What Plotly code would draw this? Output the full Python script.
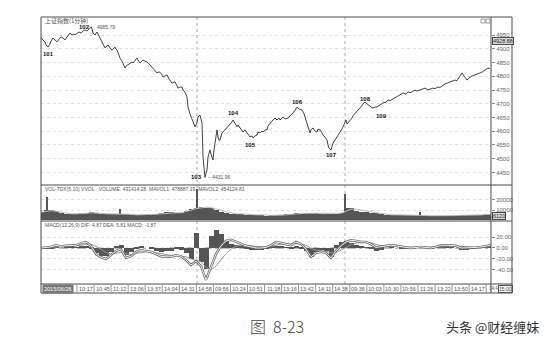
import plotly.graph_objects as go

# ---------------- data ----------------
# 1-minute bar index (0..450) and 上证指数 close
price_bar = [0, 2, 4, 5, 7, 9, 10, 12, 14, 16, 18, 20, 22, 24, 26, 28, 29, 31, 33, 34, 36, 38, 40, 42, 44, 46, 48, 50,
             51, 52, 54, 55, 56, 58, 59, 61, 62, 63, 64, 66, 67, 69, 71, 73, 74, 75, 76, 78, 79, 81, 82, 84, 85, 87,
             89, 91, 92, 94, 96, 97, 99, 101, 102, 104, 106, 108, 109, 111, 112, 114, 116, 117, 119, 121, 122, 124,
             126, 128, 131, 133, 134, 136, 137, 139, 141, 142, 144, 146, 147, 149, 151, 153, 154, 156, 157, 159, 160,
             161, 162, 163, 164, 165, 166, 167, 168, 169, 170, 171, 172, 173, 174, 175, 176, 177, 178, 179, 180, 181,
             183, 184, 186, 187, 189, 191, 192, 194, 196, 197, 199, 201, 202, 204, 206, 208, 209, 211, 212, 214, 216,
             217, 219, 221, 222, 224, 226, 227, 229, 231, 234, 236, 238, 239, 241, 242, 244, 247, 249, 252, 254, 256,
             258, 261, 263, 264, 266, 267, 269, 270, 272, 274, 276, 277, 279, 281, 282, 284, 286, 287, 288, 290, 291,
             292, 294, 296, 297, 299, 301, 302, 304, 305, 306, 307, 309, 311, 312, 314, 316, 317, 319, 321, 323, 324,
             326, 327, 329, 331, 332, 334, 336, 339, 342, 345, 347, 349, 352, 354, 356, 359, 362, 365, 367, 369, 372,
             374, 376, 379, 382, 384, 387, 389, 392, 394, 397, 399, 402, 404, 406, 409, 411, 414, 416, 418, 421, 423,
             426, 428, 429, 431, 434, 437, 439, 441, 444, 447, 449]
price = [4939, 4932, 4925, 4914, 4906, 4917, 4928, 4939, 4932, 4925, 4935, 4943, 4939, 4932, 4943, 4954, 4957, 4950,
         4954, 4950, 4957, 4961, 4957, 4965, 4968, 4965, 4972, 4980,
         4972, 4957, 4950, 4957, 4961, 4946, 4939, 4928, 4921, 4910, 4903, 4910, 4914, 4903, 4895, 4903, 4906, 4899,
         4895, 4877, 4866, 4855, 4848, 4830, 4837, 4841,
         4848, 4852, 4848, 4859, 4866, 4859, 4848, 4855, 4859, 4855, 4852, 4845, 4841, 4834, 4830, 4819, 4812, 4815,
         4815, 4805, 4797, 4801,
         4805, 4790, 4775, 4779, 4779, 4765, 4757, 4761, 4761, 4750, 4743, 4725, 4688, 4663, 4641, 4623, 4616, 4630,
         4652, 4659, 4645,
         4630, 4506, 4459, 4432, 4445, 4459, 4506, 4521, 4532, 4517, 4506, 4496, 4532, 4557, 4583, 4605, 4579, 4568,
         4568, 4583, 4594,
         4601, 4605, 4612, 4616, 4623, 4634, 4641, 4626, 4616, 4623, 4612, 4601, 4597, 4605, 4594, 4586, 4579, 4583,
         4576, 4583, 4586,
         4597, 4594, 4601, 4597, 4605, 4605, 4619, 4630, 4637, 4648, 4641, 4648, 4641, 4648, 4652, 4645, 4648, 4656,
         4666, 4677, 4688,
         4681, 4677, 4663, 4652, 4634, 4616, 4594, 4605, 4612, 4601, 4597, 4608, 4605, 4594, 4586, 4579, 4568, 4550,
         4539, 4532, 4546,
         4557, 4568, 4579, 4586, 4594, 4608, 4616, 4634, 4641, 4626, 4630, 4641, 4648, 4656, 4666, 4674, 4677, 4685,
         4696, 4703, 4706,
         4699, 4696, 4692, 4685, 4685, 4688, 4688, 4696, 4703, 4706, 4714, 4711, 4717, 4721, 4725, 4732, 4739, 4735,
         4743, 4740, 4746,
         4750, 4746, 4750, 4754, 4757, 4750, 4752, 4757, 4755, 4761, 4759, 4768, 4772, 4775, 4779, 4783, 4786, 4784,
         4797, 4812, 4801,
         4786, 4794, 4797, 4801, 4805, 4808, 4812, 4815, 4823, 4830, 4828]

grid_bar = [i * 5 for i in range(91)]
volume = [8, 10, 10, 9, 7, 6, 6, 6, 7, 7, 8, 7, 6, 6, 6, 6, 6, 6, 5, 5, 5, 6, 6, 6, 7, 8, 8, 7, 7, 9, 11, 12, 13,
          12, 12, 10, 8, 7, 6, 6, 6, 5, 5, 5, 5, 4, 5, 5, 5, 6, 6, 7, 6, 7, 7, 7, 6, 6, 6, 6, 7, 12, 12, 9, 8, 8,
          7, 7, 6, 5, 5, 5, 5, 5, 5, 5, 5, 4, 4, 4, 4, 4, 4, 5, 5, 5, 5, 5, 5, 6, 6]
volume = [v * 1000 for v in volume]
vol_ma = [8, 9, 9.5, 9, 8, 7, 6.5, 6.5, 6.5, 7, 7.5, 7.5, 7, 6.5, 6.5, 6.5, 6.5, 6.5, 6, 5.5, 5.5, 5.5, 6, 6, 6.5,
          7, 7.5, 7.5, 7.5, 8.5, 10, 11.5, 12.5, 13, 12.5, 11.5, 10, 8.5, 7.5, 6.5, 6.5, 6, 5.5, 5.5, 5.5, 5, 5, 5,
          5, 5.5, 6, 6.5, 6.5, 7, 7, 7, 6.5, 6.5, 6.5, 6.5, 7, 9, 11, 11, 10, 9, 8, 7.5, 7, 6, 5.5, 5.5, 5.5, 5.5,
          5.5, 5.5, 5, 4.8, 4.6, 4.5, 4.5, 4.5, 4.6, 4.8, 5, 5, 5, 5.2, 5.4, 5.8, 6]
vol_ma = [v * 1000 for v in vol_ma]
spike_bar = [6, 79, 156, 304, 379]
spike_vol = [23000, 11000, 31000, 26000, 8000]

dif = [0, 1, 2, 5, 3, 4, 5, 5, 9, 11, 4, -11, -17, -20, -13, -5, -2, -18, -15, -7, -4, -6, -7, -11, -15, -16, -16,
       -13, -15, -22, -31, -24, -33, -58, -35, -11, 4, 13, 15, 11, 7, 4, 2, 0, 0, 1, 5, 11, 9, 7, 5, 11, 7, -2, -16,
       -9, -7, -9, -18, -5, 4, 11, 14, 13, 11, 11, 7, 1, 2, 4, 5, 4, 2, 1, 0, 1, 2, 1, 0, 2, 5, 5, 5, 4, 0, 0, 0,
       1, 2, 4, 5]
dea = [0, 0.5, 1, 2, 3, 3, 4, 4, 5, 7, 7, 3, -3, -8, -11, -10, -8, -10, -12, -10, -8, -7, -7, -8, -10, -12, -13,
       -13, -14, -16, -20, -22, -25, -35, -40, -33, -22, -10, -2, 3, 5, 5, 4, 3, 2, 2, 3, 5, 7, 7, 7, 8, 8, 5, -1,
       -4, -5, -6, -9, -8, -4, 1, 6, 9, 10, 10, 9, 6, 4, 4, 4, 4, 3, 2, 1, 1, 1, 1, 1, 1, 2, 3, 4, 4, 3, 2, 1, 1,
       1, 2, 3]
macd_hist = [0, -1, -1, 1, 0, 2, 2, 1, 3, 3, -2, -10, -14, -14, -8, 3, 5, -12, -8, -2, 2, 0, -1, -5, -8, -6, -5,
             -1, -3, -10, -20, 28, -25, -38, 22, 33, 26, 12, 8, 5, 2, -1, -3, -4, -3, -2, 2, 4, 3, 1, -1, 3, -1, -5,
             -16, -8, -4, -5, -16, 5, 10, 12, 9, 6, 2, 1, -2, -6, -3, 0, 1, 0, -1, -2, -2, 0, 1, 0, -2, 1, 4, 3, 1,
             0, -4, -3, -1, 0, 1, 2, 2]

price_ticks = [4450, 4500, 4550, 4600, 4650, 4700, 4750, 4800, 4850, 4900, 4950]
vol_ticks = [10000, 20000]
vol_tick_text = ["10000", "20000"]
macd_ticks = [20, 0, -20, -40]
macd_tick_text = ["20.00", "0.00", "-20.00", "-40.00"]
time_labels = ["10:17", "10:45", "11:12", "13:06", "13:37", "14:04", "14:31", "14:58", "09:56", "10:24", "10:51",
               "11:18", "13:16", "13:42", "14:11", "14:38", "09:36", "10:03", "10:30", "10:56", "11:26", "13:22",
               "13:50", "14:17", "14:4"]
day_breaks = [156, 304]
wave_labels = ["101", "102", "103", "104", "105", "106", "107", "108", "109"]
wave_bar = [7, 50, 164, 192, 212, 256, 290, 324, 332]
high_text = "4985.79"
low_text = "4431.96"

# ---------------- layout helpers ----------------
W, H = 551, 351
L, R, RO, T, B = 41, 491, 512, 17, 293
P_BOT, V_BOT, M_BOT = 185, 221, 284


def X(p):
    return p / W


def Y(p):
    return 1 - p / H


FONT = "Liberation Sans"
AX = dict(color="#666", size=6, family=FONT)

fig = go.Figure()
fig.add_trace(go.Scatter(x=price_bar, y=price, mode="lines", line=dict(color="#444", width=1),
                         xaxis="x", yaxis="y", hoverinfo="skip"))
fig.add_trace(go.Bar(x=grid_bar, y=volume, width=5, marker=dict(color="#555", line_width=0),
                     xaxis="x2", yaxis="y2"))
fig.add_trace(go.Bar(x=spike_bar, y=spike_vol, width=1.6, marker=dict(color="#555", line_width=0),
                     xaxis="x2", yaxis="y2"))
fig.add_trace(go.Scatter(x=grid_bar, y=vol_ma, mode="lines", line=dict(color="#bbb", width=1),
                         xaxis="x2", yaxis="y2"))
fig.add_trace(go.Bar(x=grid_bar, y=macd_hist, width=5, marker=dict(color="#555", line_width=0),
                     xaxis="x3", yaxis="y3"))
fig.add_trace(go.Scatter(x=grid_bar, y=dea, mode="lines", line=dict(color="#999", width=1),
                         xaxis="x3", yaxis="y3"))
fig.add_trace(go.Scatter(x=grid_bar, y=dif, mode="lines", line=dict(color="#666", width=2.4),
                         xaxis="x3", yaxis="y3"))
fig.add_trace(go.Scatter(x=grid_bar, y=dif, mode="lines", line=dict(color="#fff", width=0.9),
                         xaxis="x3", yaxis="y3"))

xcommon = dict(domain=[X(L), X(R)], range=[0, 450], showticklabels=False, showgrid=False, zeroline=False,
               showline=False, ticks="")
ycommon = dict(side="right", ticks="outside", ticklen=3, tickcolor="#888", tickfont=AX, zeroline=False,
               showline=False, gridcolor="#e2e2e2", griddash="dot", gridwidth=1)

fig.update_layout(
    width=W, height=H, margin=dict(l=0, r=0, t=0, b=0), paper_bgcolor="white", plot_bgcolor="white",
    showlegend=False, barmode="overlay", bargap=0,
    xaxis=dict(**xcommon, anchor="y"),
    xaxis2=dict(**xcommon, anchor="y2", matches="x"),
    xaxis3=dict(**xcommon, anchor="y3", matches="x"),
    yaxis=dict(**ycommon, domain=[Y(P_BOT), Y(T)], range=[4404.5, 5015.5], tickvals=price_ticks, anchor="x"),
    yaxis2=dict(**ycommon, domain=[Y(V_BOT), Y(P_BOT)], range=[-500, 34500], tickvals=vol_ticks,
                ticktext=vol_tick_text, anchor="x2"),
    yaxis3=dict(**ycommon, domain=[Y(M_BOT), Y(V_BOT)], range=[-65.5, 49.1], tickvals=macd_ticks,
                ticktext=macd_tick_text, anchor="x3"),
)

shapes = []
line_c = "#4a4a4a"
shapes.append(dict(type="rect", xref="paper", yref="paper", x0=X(L), x1=X(RO), y0=Y(B), y1=Y(T),
                   line=dict(color=line_c, width=1)))
for yy in (P_BOT, V_BOT, M_BOT):
    shapes.append(dict(type="line", xref="paper", yref="paper", x0=X(L), x1=X(RO), y0=Y(yy), y1=Y(yy),
                       line=dict(color=line_c, width=1)))
shapes.append(dict(type="line", xref="paper", yref="paper", x0=X(R), x1=X(R), y0=Y(B), y1=Y(T),
                   line=dict(color=line_c, width=1)))
# zero line of MACD
shapes.append(dict(type="line", xref="x3", yref="y3", x0=0, x1=450, y0=0, y1=0,
                   line=dict(color="#777", width=1, dash="dashdot"), layer="below"))
# day separators
for d in day_breaks:
    shapes.append(dict(type="line", xref="x", yref="paper", x0=d, x1=d, y0=Y(M_BOT), y1=Y(T),
                       line=dict(color="#aaa", width=1, dash="dot"), layer="below"))
# time axis cells
step = 17.05
for i in range(len(time_labels)):
    px = 77 + step * i
    shapes.append(dict(type="line", xref="paper", yref="paper", x0=X(px), x1=X(px), y0=Y(B), y1=Y(M_BOT),
                       line=dict(color="#999", width=1)))
# top-right little icons
for ix in (481, 486):
    shapes.append(dict(type="rect", xref="paper", yref="paper", x0=X(ix), x1=X(ix + 4), y0=Y(23), y1=Y(19),
                       line=dict(color="#999", width=1)))

ann = []
small = dict(size=5, color="#555", family=FONT)
ann.append(dict(text="上证指数(1分钟)", x=X(43), y=Y(20.5), xref="paper", yref="paper", xanchor="left",
                yanchor="middle", showarrow=False, font=dict(size=6, color="#555", family="Noto Sans CJK SC")))
ann.append(dict(text="VOL-TDX(5,10) VVOL · VOLUME: 491414.28  MAVOL1: 478887.19  MAVOL2: 454124.81",
                x=X(43), y=Y(189), xref="paper", yref="paper", xanchor="left", yanchor="middle",
                showarrow=False, font=small))
ann.append(dict(text="MACD(12,26,9) DIF: 4.87 DEA: 5.81 MACD: -1.87", x=X(43), y=Y(224.5), xref="paper",
                yref="paper", xanchor="left", yanchor="middle", showarrow=False, font=small))

# wave labels anchored to price points
lab_font = dict(size=6, color="#111", family=FONT)
offsets = {"101": (0, -7, "center"), "102": (1, 0, "right"), "103": (-1, 0, "right"), "104": (0, 7, "center"),
           "105": (-3, -7, "center"), "106": (0, 5, "center"), "107": (0, -5, "center"),
           "108": (0, 3, "center"), "109": (8, -8, "center")}
for name, b in zip(wave_labels, wave_bar):
    val = price[price_bar.index(b)]
    dx, dy, xa = offsets[name]
    ann.append(dict(text="<b>%s</b>" % name, x=b, y=val, xref="x", yref="y", xanchor=xa, yanchor="middle",
                    xshift=dx, yshift=dy, showarrow=False, font=lab_font))
hb = wave_bar[1]
ann.append(dict(text=high_text, x=hb, y=price[price_bar.index(hb)], xref="x", yref="y", xanchor="left",
                yanchor="middle", xshift=4, showarrow=False, font=dict(size=5, color="#555", family=FONT)))
lb = wave_bar[2]
ann.append(dict(text="– " + low_text, x=lb, y=price[price_bar.index(lb)], xref="x", yref="y", xanchor="left",
                yanchor="middle", xshift=1, showarrow=False, font=dict(size=5, color="#555", family=FONT)))

# time labels
for i, t in enumerate(time_labels):
    px = 77 + step * i
    last = i == len(time_labels) - 1
    ann.append(dict(text=t, x=X(px + 0.5) if last else X(px + 8.5), y=Y(288.5), xref="paper", yref="paper",
                    xanchor="left" if last else "center", yanchor="middle", showarrow=False,
                    font=dict(size=4.5 if last else 5.5, color="#555", family=FONT)))
ann.append(dict(text="2015/06/26", x=X(42), y=Y(288.5), xref="paper", yref="paper", xanchor="left",
                yanchor="middle", showarrow=False, bgcolor="#777", font=dict(size=5.5, color="#fff", family=FONT)))
ann.append(dict(text="15:00", x=X(497.5), y=Y(288.5), xref="paper", yref="paper", xanchor="left",
                yanchor="middle", showarrow=False, bordercolor="#555", borderwidth=1, borderpad=0,
                font=dict(size=5, color="#333", family=FONT)))
ann.append(dict(text="4928.88", x=X(491.5), y=Y(41), xref="paper", yref="paper", xanchor="left",
                yanchor="middle", showarrow=False, bgcolor="#ddd", bordercolor="#444", borderwidth=1,
                borderpad=0, font=dict(size=5.5, color="#222", family=FONT)))
ann.append(dict(text="6120", x=X(492), y=Y(216), xref="paper", yref="paper", xanchor="left",
                yanchor="middle", showarrow=False, bgcolor="#ddd", bordercolor="#444", borderwidth=1,
                borderpad=0, font=dict(size=5.5, color="#222", family=FONT)))

# caption and watermark
ann.append(dict(text="图  8-23", x=X(277), y=Y(326), xref="paper", yref="paper", xanchor="center",
                yanchor="middle", showarrow=False,
                font=dict(size=16, color="#444", family="Noto Sans CJK SC", weight=300)))
ann.append(dict(text="头条 @财经缠妹", x=X(492), y=Y(326), xref="paper", yref="paper", xanchor="center",
                yanchor="middle", showarrow=False, font=dict(size=13, color="#333", family="Noto Sans CJK SC")))

fig.update_layout(shapes=shapes, annotations=ann)
fig.write_html("out.html")
